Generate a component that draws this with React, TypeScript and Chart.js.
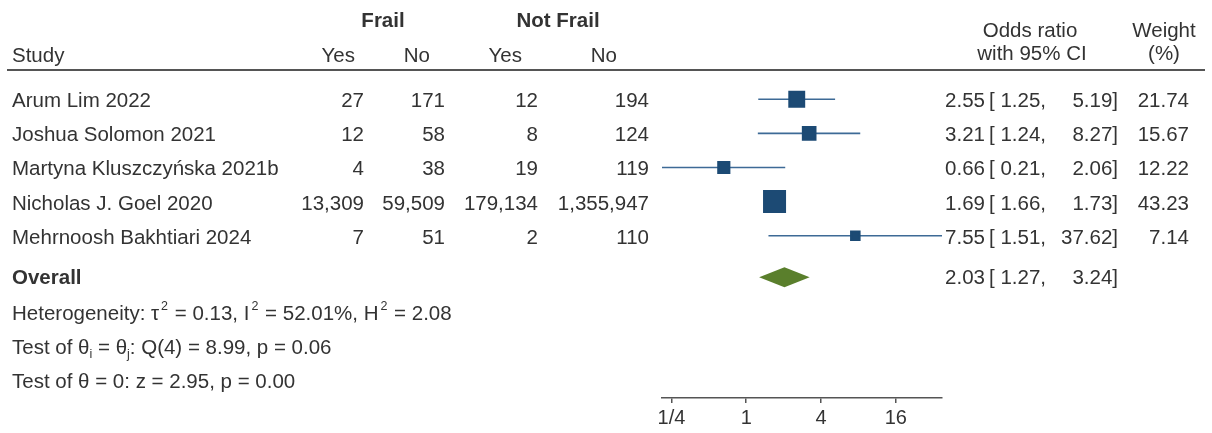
import React, { useEffect, useRef } from 'react';
import { Chart, registerables } from 'chart.js';

Chart.register(...registerables);

// ---------- data ----------
const studies = [
  'Arum Lim 2022',
  'Joshua Solomon 2021',
  'Martyna Kluszczyńska 2021b',
  'Nicholas J. Goel 2020',
  'Mehrnoosh Bakhtiari 2024',
];
const frailYes = ['27', '12', '4', '13,309', '7'];
const frailNo = ['171', '58', '38', '59,509', '51'];
const notFrailYes = ['12', '8', '19', '179,134', '2'];
const notFrailNo = ['194', '124', '119', '1,355,947', '110'];
const oddsRatio = [2.55, 3.21, 0.66, 1.69, 7.55];
const ciLower = [1.25, 1.24, 0.21, 1.66, 1.51];
const ciUpper = [5.19, 8.27, 2.06, 1.73, 37.62];
const weights = [21.74, 15.67, 12.22, 43.23, 7.14];
const overallOR = 2.03;
const overallLower = 1.27;
const overallUpper = 3.24;
const xTicks = [0.25, 1, 4, 16];
const xTickLabels = ['1/4', '1', '4', '16'];
const xMin = 0.21;
const xMax = 37.62;

// ---------- style ----------
const FONT = '"Liberation Sans", Arial, Helvetica, sans-serif';
const TEXT = '#333333';
const SQUARE = '#1c4a74';
const LINE = '#3d6a96';
const DIAMOND = '#5a7f2c';
const FS = 20.5;

const overallRow = studies.length + 0.22;
const statRows = [overallRow + 1.02, overallRow + 2.02, overallRow + 3.02];

type Seg = { t: string; sup?: boolean; sub?: boolean };

function text(
  ctx: CanvasRenderingContext2D,
  s: string,
  x: number,
  y: number,
  align: CanvasTextAlign = 'left',
  bold = false,
  size = FS
) {
  ctx.font = `${bold ? 'bold ' : ''}${size}px ${FONT}`;
  ctx.textAlign = align;
  ctx.textBaseline = 'alphabetic';
  ctx.fillStyle = TEXT;
  ctx.fillText(s, x, y);
}

function rich(ctx: CanvasRenderingContext2D, segs: Seg[], x: number, y: number) {
  let cx = x;
  ctx.textAlign = 'left';
  ctx.textBaseline = 'alphabetic';
  ctx.fillStyle = TEXT;
  for (const s of segs) {
    const size = s.sup || s.sub ? 12.5 : FS;
    const dy = s.sup ? -10 : s.sub ? 4 : 0;
    ctx.font = `${size}px ${FONT}`;
    if (s.sup) cx += 2;
    ctx.fillText(s.t, cx, y + dy);
    cx += ctx.measureText(s.t).width;
    if (s.sup) cx += 1;
  }
}

function ciText(ctx: CanvasRenderingContext2D, or: number, lo: number, hi: number, by: number) {
  text(ctx, or.toFixed(2), 985, by, 'right');
  text(ctx, '[', 989, by, 'left');
  text(ctx, lo.toFixed(2) + ',', 1046, by, 'right');
  text(ctx, hi.toFixed(2) + ']', 1118, by, 'right');
}

const tablePlugin = {
  id: 'forestTable',
  afterDatasetsDraw(chart: any) {
    const ctx: CanvasRenderingContext2D = chart.ctx;
    const xs = chart.scales.x;
    const ys = chart.scales.y;
    ctx.save();
    // overall diamond
    const cy = ys.getPixelForValue(overallRow);
    const h = 10;
    ctx.beginPath();
    ctx.moveTo(xs.getPixelForValue(overallLower), cy);
    ctx.lineTo(xs.getPixelForValue(overallOR), cy - h);
    ctx.lineTo(xs.getPixelForValue(overallUpper), cy);
    ctx.lineTo(xs.getPixelForValue(overallOR), cy + h);
    ctx.closePath();
    ctx.fillStyle = DIAMOND;
    ctx.fill();
    ctx.restore();
  },
  afterDraw(chart: any) {
    const ctx: CanvasRenderingContext2D = chart.ctx;
    const ys = chart.scales.y;
    ctx.save();
    // header
    text(ctx, 'Frail', 383, 27, 'center', true);
    text(ctx, 'Not Frail', 558, 27, 'center', true);
    text(ctx, 'Study', 12, 62);
    text(ctx, 'Yes', 355, 62, 'right');
    text(ctx, 'No', 430, 62, 'right');
    text(ctx, 'Yes', 522, 62, 'right');
    text(ctx, 'No', 617, 62, 'right');
    text(ctx, 'Odds ratio', 1030, 37, 'center');
    text(ctx, 'with 95% CI', 1032, 60, 'center');
    text(ctx, 'Weight', 1164, 37, 'center');
    text(ctx, '(%)', 1164, 60, 'center');
    ctx.beginPath();
    ctx.moveTo(7, 70);
    ctx.lineTo(1205, 70);
    ctx.lineWidth = 2;
    ctx.strokeStyle = '#555555';
    ctx.stroke();

    // study rows
    studies.forEach((s, i) => {
      const by = ys.getPixelForValue(i) + 8;
      text(ctx, s, 12, by);
      text(ctx, frailYes[i], 364, by, 'right');
      text(ctx, frailNo[i], 445, by, 'right');
      text(ctx, notFrailYes[i], 538, by, 'right');
      text(ctx, notFrailNo[i], 649, by, 'right');
      ciText(ctx, oddsRatio[i], ciLower[i], ciUpper[i], by);
      text(ctx, weights[i].toFixed(2), 1189, by, 'right');
    });

    // overall
    const oy = ys.getPixelForValue(overallRow) + 7;
    text(ctx, 'Overall', 12, oy, 'left', true);
    ciText(ctx, overallOR, overallLower, overallUpper, oy);

    // statistics
    const statLines: Seg[][] = [
      [
        { t: 'Heterogeneity: τ' },
        { t: '2', sup: true },
        { t: ' = 0.13, I' },
        { t: '2', sup: true },
        { t: ' = 52.01%, H' },
        { t: '2', sup: true },
        { t: ' = 2.08' },
      ],
      [
        { t: 'Test of θ' },
        { t: 'i', sub: true },
        { t: ' = θ' },
        { t: 'j', sub: true },
        { t: ': Q(4) = 8.99, p = 0.06' },
      ],
      [{ t: 'Test of θ = 0: z = 2.95, p = 0.00' }],
    ];
    statLines.forEach((segs, k) => {
      rich(ctx, segs, 12, ys.getPixelForValue(statRows[k]) + 8);
    });
    ctx.restore();
  },
};

export default function App() {
  const ref = useRef<HTMLCanvasElement>(null);
  useEffect(() => {
    const canvas = ref.current;
    if (!canvas) return;
    const ciSets = studies.map((_, i) => ({
      type: 'line' as const,
      data: [
        { x: ciLower[i], y: i },
        { x: ciUpper[i], y: i },
      ],
      borderColor: LINE,
      borderWidth: 1.6,
      pointRadius: 0,
      fill: false,
      clip: false as any,
      order: 2,
    }));
    const chart = new Chart(canvas, {
      type: 'scatter',
      data: {
        datasets: [
          {
            type: 'scatter',
            data: studies.map((_, i) => ({ x: oddsRatio[i], y: i })),
            pointStyle: 'rect',
            pointRadius: weights.map((w) => 2.26 * Math.sqrt(w)),
            backgroundColor: SQUARE,
            borderColor: SQUARE,
            borderWidth: 2,
            clip: false as any,
            order: 0,
          } as any,
          ...(ciSets as any[]),
        ],
      },
      options: {
        animation: false,
        responsive: false,
        devicePixelRatio: 1,
        events: [],
        layout: { autoPadding: false, padding: { left: 662, right: 270, top: 0, bottom: 0 } },
        plugins: { legend: { display: false }, tooltip: { enabled: false } },
        scales: {
          x: {
            type: 'logarithmic',
            position: 'bottom',
            min: xMin,
            max: xMax,
            afterBuildTicks: (scale: any) => {
              scale.ticks = xTicks.map((v) => ({ value: v }));
            },
            ticks: {
              autoSkip: false,
              maxRotation: 0,
              minRotation: 0,
              padding: 3,
              color: TEXT,
              font: { family: FONT, size: 20 },
              callback: (_v: any, idx: number) => xTickLabels[idx],
            },
            grid: {
              display: true,
              drawOnChartArea: false,
              drawTicks: true,
              tickLength: 5,
              color: '#555555',
              lineWidth: 1.5,
            },
            border: { display: true, color: '#555555', width: 1.5 },
          } as any,
          y: {
            type: 'linear',
            display: false,
            reverse: true,
            min: -2.912,
            max: 8.76,
          },
        },
      },
      plugins: [tablePlugin],
    });
    return () => chart.destroy();
  }, []);
  return (
    <div style={{ position: 'absolute', left: 0, top: 0, width: 1212, height: 433, background: '#ffffff' }}>
      <canvas ref={ref} width={1212} height={433} style={{ display: 'block', width: 1212, height: 433 }} />
    </div>
  );
}
